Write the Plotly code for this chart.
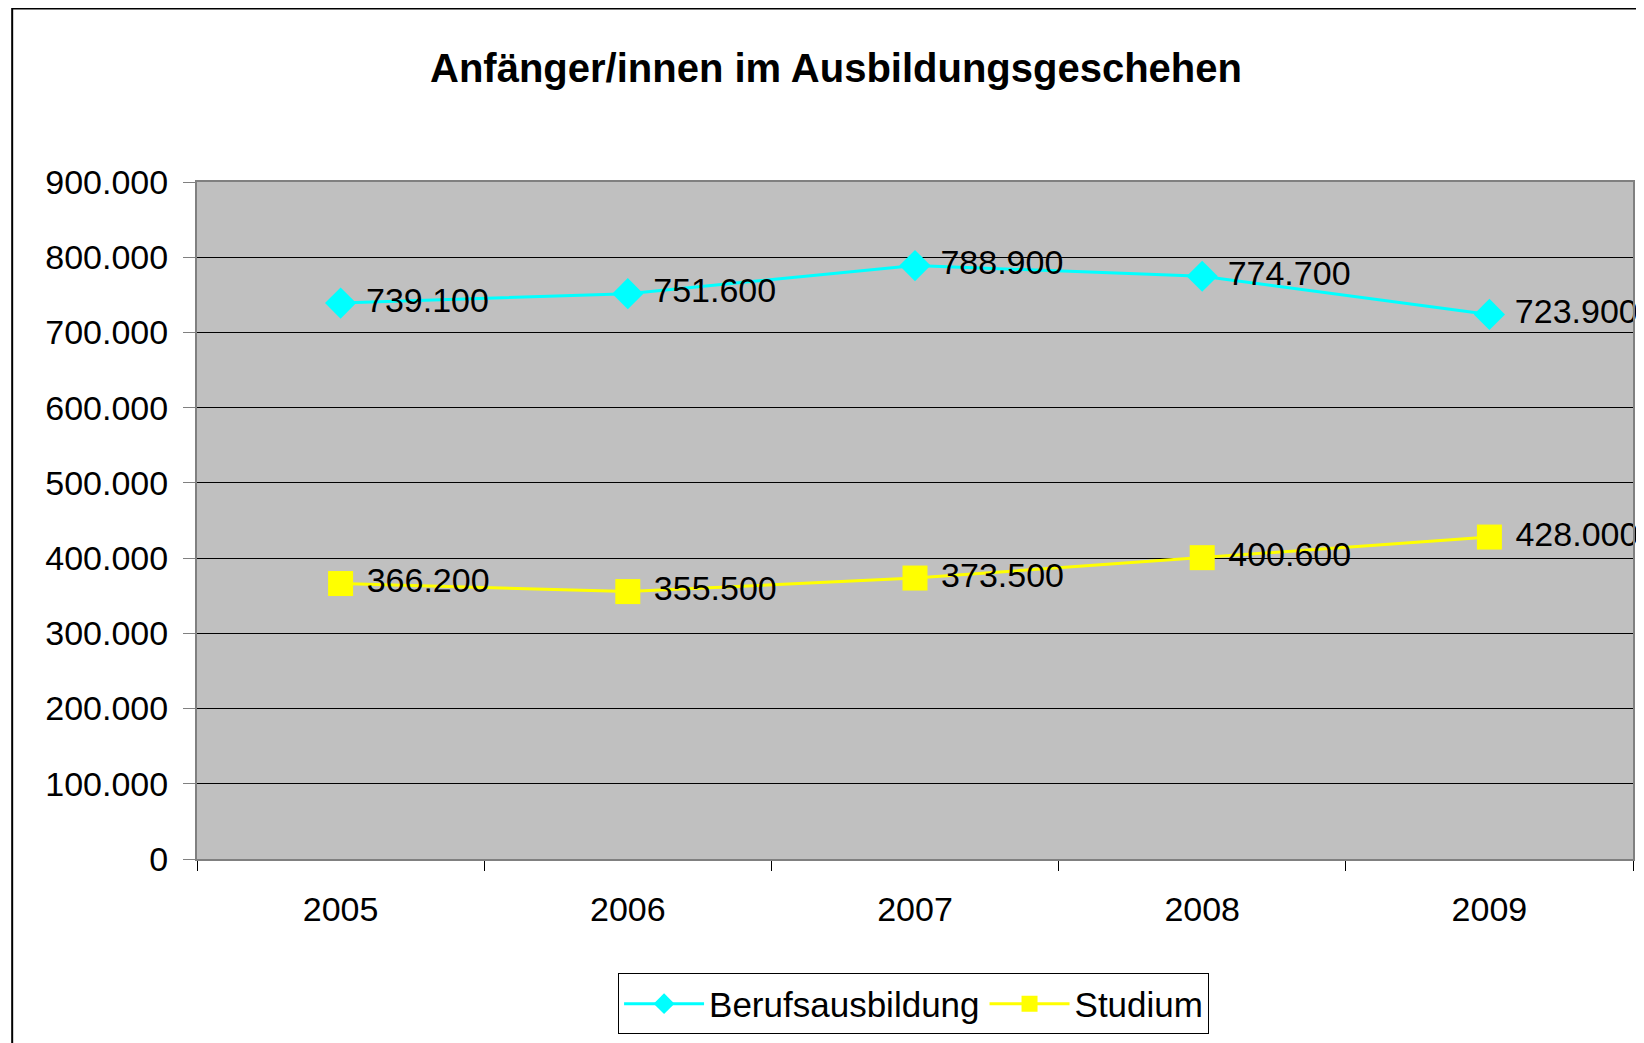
import plotly.graph_objects as go

years = ["2005", "2006", "2007", "2008", "2009"]
beruf = [739100, 751600, 788900, 774700, 723900]
studium = [366200, 355500, 373500, 400600, 428000]
series_names = ["Berufsausbildung", "Studium"]
y_ticks = [0, 100000, 200000, 300000, 400000, 500000, 600000, 700000, 800000, 900000]

FONT = "Liberation Sans, Arial, sans-serif"
FS = 34

fig = go.Figure()
fig.add_trace(go.Scatter(
    x=years, y=beruf, name=series_names[0], mode="lines+markers+text",
    line=dict(color="#00FFFF", width=3),
    marker=dict(symbol="diamond", size=24, color="#00FFFF"),
    texttemplate="\u00a0%{y:,.0f}", textposition="middle right",
    textfont=dict(family=FONT, size=FS, color="black"), cliponaxis=False,
))
fig.add_trace(go.Scatter(
    x=years, y=studium, name=series_names[1], mode="lines+markers+text",
    line=dict(color="#FFFF00", width=3),
    marker=dict(symbol="square", size=25, color="#FFFF00"),
    texttemplate="\u00a0%{y:,.0f}", textposition="middle right",
    textfont=dict(family=FONT, size=FS, color="black"), cliponaxis=False,
))

fig.update_layout(
    width=1636, height=1035,
    margin=dict(l=189, r=9, t=174, b=182),
    paper_bgcolor="white", plot_bgcolor="#C0C0C0",
    separators=",.",
    font=dict(family=FONT, size=FS, color="black"),
    title=dict(text="<b>Anfänger/innen im Ausbildungsgeschehen</b>",
               font=dict(family=FONT, size=40, color="black"),
               xref="paper", x=0.445, xanchor="center",
               yref="container", y=0.942, yanchor="middle"),
    showlegend=True,
    legend=dict(orientation="h", x=0.499, xanchor="center", y=-0.214, yanchor="middle",
                bgcolor="white", bordercolor="black", borderwidth=1,
                font=dict(family=FONT, size=35), itemwidth=80),
    xaxis=dict(type="category", range=[-0.5, 4.5], tickson="boundaries",
               ticks="outside", ticklen=10, tickcolor="black", tickwidth=1,
               showgrid=False, showline=True, linecolor="#808080", linewidth=2, mirror=True,
               ticklabelstandoff=19, tickfont=dict(family=FONT, size=FS)),
    yaxis=dict(range=[0, 900000], tickvals=y_ticks, tickformat=",.0f",
               ticks="outside", ticklen=12, tickcolor="#808080", tickwidth=1,
               showgrid=True, gridcolor="black", gridwidth=1, zeroline=False,
               showline=True, linecolor="#808080", linewidth=2, mirror=True,
               ticklabelstandoff=8, tickfont=dict(family=FONT, size=FS)),
    shapes=[dict(type="rect", xref="paper", yref="paper",
                 x0=-0.1287, x1=1.05, y0=-0.3, y1=1.2563,
                 line=dict(color="black", width=2), fillcolor="rgba(0,0,0,0)", layer="below")],
)

fig.write_html("out.html")
